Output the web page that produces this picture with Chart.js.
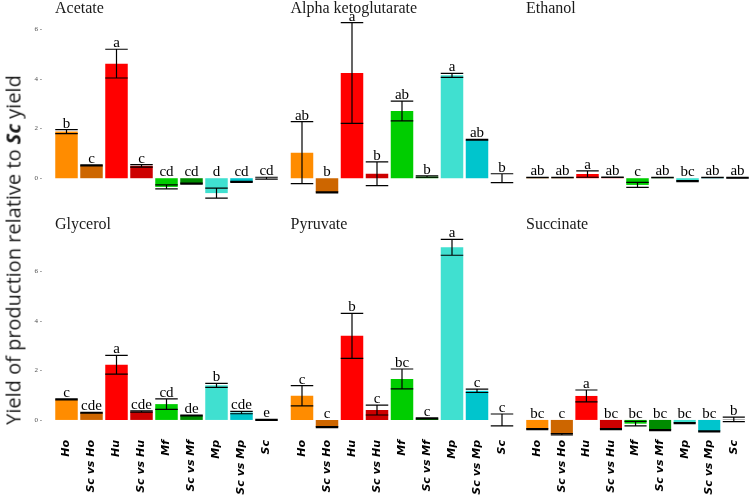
<!DOCTYPE html>
<html>
<head>
<meta charset="utf-8">
<script src="https://cdn.jsdelivr.net/npm/chart.js@4"></script>
<style>
body { margin: 0; background: #fff; }
#wrap { position: relative; width: 750px; height: 495px; overflow: hidden; }
canvas { position: absolute; left: 0; top: 0; }
#ytitle {
    position: absolute; left: 13px; top: 250px;
    transform: translate(-50%, -50%) rotate(-90deg);
    white-space: nowrap; font-family: 'Open Sans'; font-size: 20px; color: #1a1a1a;
}
</style>
</head>
<body>
<div id="wrap">
    <canvas id="c0" width="750" height="495"></canvas>
    <canvas id="c1" width="750" height="495"></canvas>
    <canvas id="c2" width="750" height="495"></canvas>
    <canvas id="c3" width="750" height="495"></canvas>
    <canvas id="c4" width="750" height="495"></canvas>
    <canvas id="c5" width="750" height="495"></canvas>
    <div id="ytitle">Yield of production relative to <b><i>Sc</i></b> yield</div>
</div>
<script>
// categories and colours
var categories = ['Ho', 'Sc vs Ho', 'Hu', 'Sc vs Hu', 'Mf', 'Sc vs Mf', 'Mp', 'Sc vs Mp', 'Sc'];
var barColors = ['#FF8C00', '#CD6600', '#FF0000', '#CD0000', '#00CD00', '#008B00', '#40E0D0', '#00C5CD', '#666666'];
var yTicks = [0, 2, 4, 6];

// values (mean, standard error, letters)
var acetateMean = [1.88, 0.52, 4.62, 0.50, -0.35, -0.22, -0.60, -0.15, 0.00];
var acetateSe = [0.08, 0.02, 0.58, 0.05, 0.08, 0.02, 0.20, 0.02, 0.04];
var acetateLetters = ['b', 'c', 'a', 'c', 'cd', 'cd', 'd', 'cd', 'cd'];

var akgMean = [1.03, -0.57, 4.24, 0.18, 2.71, 0.07, 4.15, 1.55, 0.00];
var akgSe = [1.25, 0.02, 2.03, 0.48, 0.40, 0.03, 0.08, 0.02, 0.18];
var akgLetters = ['ab', 'b', 'a', 'b', 'ab', 'b', 'a', 'ab', 'b'];

var ethanolMean = [0.03, 0.03, 0.17, 0.04, -0.27, 0.03, -0.12, 0.03, 0.02];
var ethanolSe = [0.01, 0.01, 0.13, 0.01, 0.10, 0.01, 0.02, 0.01, 0.02];
var ethanolLetters = ['ab', 'ab', 'a', 'ab', 'c', 'ab', 'bc', 'ab', 'ab'];

var glycerolMean = [0.83, 0.29, 2.23, 0.34, 0.64, 0.18, 1.40, 0.30, 0.00];
var glycerolSe = [0.02, 0.02, 0.38, 0.03, 0.21, 0.02, 0.08, 0.05, 0.02];
var glycerolLetters = ['c', 'cde', 'a', 'cde', 'cd', 'de', 'b', 'cde', 'e'];

var pyruvateMean = [0.98, -0.29, 3.40, 0.40, 1.66, 0.06, 6.98, 1.18, 0.00];
var pyruvateSe = [0.41, 0.02, 0.91, 0.20, 0.40, 0.02, 0.32, 0.07, 0.24];
var pyruvateLetters = ['c', 'c', 'b', 'c', 'bc', 'c', 'a', 'c', 'c'];

var succinateMean = [-0.37, -0.58, 0.97, -0.37, -0.15, -0.41, -0.13, -0.46, 0.02];
var succinateSe = [0.02, 0.03, 0.24, 0.02, 0.09, 0.02, 0.02, 0.02, 0.09];
var succinateLetters = ['bc', 'c', 'a', 'bc', 'bc', 'bc', 'bc', 'bc', 'b'];

// layout of the facets
var rows = [
    { min: -1.12, max: 6.46, top: 18, bottom: 206, stripY: 13 },
    { min: -0.69, max: 7.6, top: 232, bottom: 437, stripY: 228.5 }
];
var cols = [
    { left: 54, right: 279 },
    { left: 289.5, right: 514.5 },
    { left: 525, right: 750 }
];

var panels = [
    { id: 'c0', title: 'Acetate', mean: acetateMean, se: acetateSe, letters: acetateLetters, row: 0, col: 0 },
    { id: 'c1', title: 'Alpha ketoglutarate', mean: akgMean, se: akgSe, letters: akgLetters, row: 0, col: 1 },
    { id: 'c2', title: 'Ethanol', mean: ethanolMean, se: ethanolSe, letters: ethanolLetters, row: 0, col: 2 },
    { id: 'c3', title: 'Glycerol', mean: glycerolMean, se: glycerolSe, letters: glycerolLetters, row: 1, col: 0 },
    { id: 'c4', title: 'Pyruvate', mean: pyruvateMean, se: pyruvateSe, letters: pyruvateLetters, row: 1, col: 1 },
    { id: 'c5', title: 'Succinate', mean: succinateMean, se: succinateSe, letters: succinateLetters, row: 1, col: 2 }
];

// error bars, significance letters and the strip title
var errorBars = {
    id: 'errorBars',
    afterDatasetsDraw: function(chart, args, opts) {
        var p = opts.panel;
        var ctx = chart.ctx;
        var y = chart.scales.y;
        var meta = chart.getDatasetMeta(0);
        ctx.save();
        ctx.strokeStyle = '#000';
        ctx.lineWidth = 1.2;
        ctx.fillStyle = '#000';
        ctx.font = '15px "Liberation Serif"';
        ctx.textAlign = 'center';
        ctx.textBaseline = 'alphabetic';
        meta.data.forEach(function(bar, i) {
            var hi = y.getPixelForValue(p.mean[i] + p.se[i]);
            var lo = y.getPixelForValue(p.mean[i] - p.se[i]);
            var half = bar.width / 2;
            ctx.beginPath();
            ctx.moveTo(bar.x - half, hi); ctx.lineTo(bar.x + half, hi);
            ctx.moveTo(bar.x - half, lo); ctx.lineTo(bar.x + half, lo);
            ctx.moveTo(bar.x, hi); ctx.lineTo(bar.x, lo);
            ctx.stroke();
            var top = y.getPixelForValue(Math.max(p.mean[i] + p.se[i], 0));
            ctx.fillText(p.letters[i], bar.x, top - 2);
        });
        ctx.font = '16px "Liberation Serif"';
        ctx.textAlign = 'left';
        ctx.fillStyle = '#1a1a1a';
        ctx.fillText(p.title, chart.chartArea.left + 1, rows[p.row].stripY);
        ctx.restore();
    }
};

panels.forEach(function(p) {
    var row = rows[p.row];
    var col = cols[p.col];
    var ctx = document.getElementById(p.id).getContext('2d');

    var xAxis = {
        display: p.row == 1,
        grid: { display: false, drawTicks: false },
        border: { display: false },
        ticks: {
            autoSkip: false,
            minRotation: 90,
            maxRotation: 90,
            padding: 3,
            color: '#000',
            font: { family: 'DejaVu Sans', size: 11, weight: 'bold', style: 'italic' }
        }
    };
    if (p.row == 1) {
        xAxis.afterFit = function(scale) { scale.height = 58; };
    }

    var yAxis = {
        display: p.col == 0,
        min: row.min,
        max: row.max,
        grid: { display: false, drawTicks: false },
        border: { display: false },
        afterBuildTicks: function(scale) {
            scale.ticks = yTicks.map(function(v) { return { value: v }; });
        },
        ticks: {
            padding: 12,
            color: '#4d4d4d',
            font: { family: 'Liberation Serif', size: 7 },
            callback: function(v) { return v + ' -'; }
        }
    };
    if (p.col == 0) {
        yAxis.afterFit = function(scale) { scale.width = 54; };
    }

    new Chart(ctx, {
        type: 'bar',
        plugins: [errorBars],
        data: {
            labels: categories,
            datasets: [{
                data: p.mean,
                backgroundColor: barColors,
                borderWidth: 0,
                barPercentage: 0.9,
                categoryPercentage: 1.0
            }]
        },
        options: {
            responsive: false,
            animation: false,
            layout: {
                padding: {
                    left: p.col == 0 ? 0 : col.left,
                    right: 750 - col.right,
                    top: row.top,
                    bottom: p.row == 0 ? 495 - row.bottom : 0
                }
            },
            plugins: {
                legend: { display: false },
                tooltip: { enabled: false },
                errorBars: { panel: p }
            },
            scales: { x: xAxis, y: yAxis }
        }
    });
});
</script>
</body>
</html>
